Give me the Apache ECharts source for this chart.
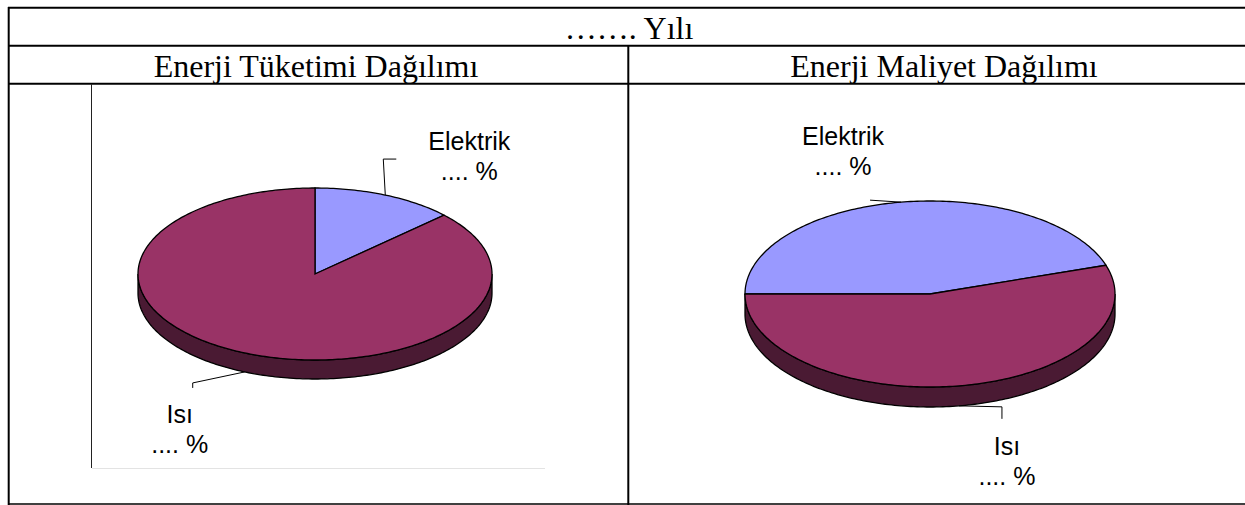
<!DOCTYPE html>
<html>
<head>
<meta charset="utf-8">
<script src="https://cdn.jsdelivr.net/npm/echarts@6/dist/echarts.min.js"></script>
<style>
html,body{margin:0;padding:0;background:#fff;}
#main{width:1245px;height:505px;}
</style>
</head>
<body>
<div id="main"></div>
<script>
// veriler
var dilimAdlari = ['Elektrik', 'Isı'];
var tuketimDegerleri = [13, 87];   // Enerji Tüketimi Dağılımı (%)
var maliyetDegerleri = [45, 55];   // Enerji Maliyet Dağılımı (%)
var yilBasligi = '……. Yılı';
var sutunBasliklari = ['Enerji Tüketimi Dağılımı', 'Enerji Maliyet Dağılımı'];
var yuzdeMetni = '.... %';

// renkler
var ustRenk = ['#9999ff', '#993366'];
var yanRenk = ['#4d4d80', '#4a1a33'];

var etiketFont = '"Liberation Sans", Arial, sans-serif';
var baslikFont = '"Liberation Serif", "Times New Roman", serif';

// pasta yerlesimi (stil)
var solPasta = {
    cx: 315, cy: 274, rx: 177, ry: 86, depth: 19, start: 0,
    labels: [
        {leader: [[-2, -36], [11, -36]], text: [84, -39]},
        {leader: [[-52, 11], [-52, 16]], text: [-65, 57]}
    ]
};
var sagPasta = {
    cx: 930, cy: 294, rx: 185, ry: 93, depth: 20, start: 270,
    labels: [
        {leader: [[-31, -2]], text: [-58, -51]},
        {leader: [[43, 1], [43, 13]], text: [48, 55]}
    ]
};

function pie3d(values, lay) {
    var total = values.reduce(function (a, b) { return a + b; }, 0);
    var starts = [], acc = 0;
    values.forEach(function (v) { starts.push(acc); acc += v; });
    function pt(deg, dy) {
        var r = deg * Math.PI / 180;
        return [lay.cx + lay.rx * Math.sin(r), lay.cy - lay.ry * Math.cos(r) + (dy || 0)];
    }
    function arc(a, b, dy) {
        var pts = [];
        var n = Math.max(2, Math.ceil(Math.abs(b - a)));
        for (var i = 0; i <= n; i++) pts.push(pt(a + (b - a) * i / n, dy));
        return pts;
    }
    return {
        type: 'custom',
        coordinateSystem: 'none',
        silent: true,
        animation: false,
        data: values.map(function (v, i) { return {name: dilimAdlari[i], value: v}; }),
        renderItem: function (params, api) {
            var i = params.dataIndex;
            var a = lay.start + starts[i] / total * 360;
            var b = a + api.value(0) / total * 360;
            var children = [];
            // on taraftaki yan yuzey
            for (var k = -1; k <= 2; k++) {
                var lo = Math.max(a, 90 + 360 * k), hi = Math.min(b, 270 + 360 * k);
                if (hi > lo) {
                    children.push({
                        type: 'polygon',
                        shape: {points: arc(lo, hi, 0).concat(arc(hi, lo, lay.depth))},
                        style: {fill: yanRenk[i], stroke: '#000', lineWidth: 1.3}
                    });
                }
            }
            // ust yuzey
            children.push({
                type: 'polygon',
                shape: {points: [[lay.cx, lay.cy]].concat(arc(a, b, 0))},
                style: {fill: ustRenk[i], stroke: '#000', lineWidth: 1.3}
            });
            // etiket + kilavuz cizgisi
            var m = (a + b) / 2;
            var anchor = pt(m, Math.cos(m * Math.PI / 180) < 0 ? lay.depth : 0);
            var L = lay.labels[i];
            var line = [anchor].concat(L.leader.map(function (p) { return [anchor[0] + p[0], anchor[1] + p[1]]; }));
            children.push({
                type: 'polyline',
                shape: {points: line},
                style: {stroke: '#000', lineWidth: 1, fill: null}
            });
            children.push({
                type: 'text',
                style: {
                    text: dilimAdlari[i] + '\n' + yuzdeMetni,
                    x: anchor[0] + L.text[0], y: anchor[1] + L.text[1],
                    fill: '#000', fontSize: 25, fontFamily: etiketFont, lineHeight: 30,
                    align: 'center', verticalAlign: 'middle'
                }
            });
            return {type: 'group', children: children};
        }
    };
}

function cizgi(x1, y1, x2, y2, w, c) {
    return {type: 'line', silent: true, shape: {x1: x1, y1: y1, x2: x2, y2: y2}, style: {stroke: c || '#000', lineWidth: w}};
}
function yazi(t, x, y) {
    return {type: 'text', silent: true, x: x, y: y,
        style: {text: t, fill: '#000', font: '32px ' + baslikFont,
            align: 'center', verticalAlign: 'middle', textAlign: 'center', textVerticalAlign: 'middle'}};
}

var myChart = echarts.init(document.getElementById('main'), null, {renderer: 'svg'});
var option = {
    animation: false,
    graphic: [
        // tablo cizgileri
        cizgi(8, 7.7, 1245, 7.7, 2),
        cizgi(8, 45.7, 1245, 45.7, 2),
        cizgi(8, 83.7, 1245, 83.7, 2),
        cizgi(8, 504, 1245, 504, 1.5),
        cizgi(8.7, 7, 8.7, 505, 2),
        cizgi(628.3, 45, 628.3, 505, 2),
        // sol grafik alani kenarlari
        cizgi(91.5, 84, 91.5, 468, 1, '#222'),
        cizgi(92, 468.5, 545, 468.5, 1, '#e3e3e3'),
        yazi(yilBasligi, 629, 28),
        yazi(sutunBasliklari[0], 316, 66),
        yazi(sutunBasliklari[1], 944, 66)
    ],
    series: [pie3d(tuketimDegerleri, solPasta), pie3d(maliyetDegerleri, sagPasta)]
};
myChart.setOption(option);
</script>
</body>
</html>
